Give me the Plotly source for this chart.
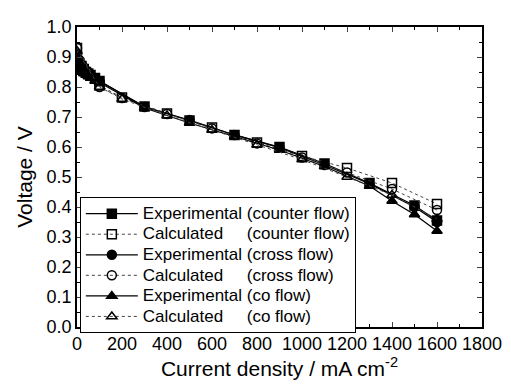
import plotly.graph_objects as go

# Experimental data (current density mA cm-2, voltage V)
exp_counter_x = [0, 10, 20, 30, 40, 50, 60, 80, 100, 300, 500, 700, 900, 1100, 1300, 1500, 1600]
exp_counter_y = [0.90, 0.88, 0.87, 0.86, 0.85, 0.845, 0.84, 0.83, 0.82, 0.735, 0.688, 0.64, 0.60, 0.545, 0.48, 0.405, 0.355]
exp_cross_x = [0, 10, 20, 30, 40, 50, 60, 80, 100, 300, 500, 700, 900, 1100, 1300, 1500, 1600]
exp_cross_y = [0.91, 0.89, 0.875, 0.865, 0.855, 0.848, 0.84, 0.83, 0.82, 0.733, 0.69, 0.64, 0.598, 0.54, 0.478, 0.40, 0.35]
exp_co_x = [0, 10, 20, 30, 40, 50, 60, 80, 100, 300, 500, 700, 900, 1100, 1300, 1400, 1500, 1600]
exp_co_y = [0.87, 0.86, 0.85, 0.845, 0.84, 0.835, 0.83, 0.82, 0.815, 0.73, 0.68, 0.635, 0.59, 0.535, 0.47, 0.42, 0.375, 0.32]

# Calculated data
calc_x = [0, 100, 200, 400, 600, 800, 1000, 1200, 1400, 1600]
calc_counter_y = [0.93, 0.805, 0.765, 0.712, 0.665, 0.615, 0.57, 0.53, 0.48, 0.41]
calc_cross_y = [0.93, 0.80, 0.763, 0.71, 0.662, 0.612, 0.565, 0.515, 0.46, 0.39]
calc_co_y = [0.92, 0.80, 0.76, 0.705, 0.657, 0.607, 0.558, 0.50, 0.44, 0.36]

names = [
    "Experimental (counter flow)",
    "Calculated\u00a0\u00a0\u00a0\u00a0\u00a0(counter flow)",
    "Experimental (cross flow)",
    "Calculated\u00a0\u00a0\u00a0\u00a0\u00a0(cross flow)",
    "Experimental (co flow)",
    "Calculated\u00a0\u00a0\u00a0\u00a0\u00a0(co flow)",
]

series = [
    (exp_counter_x, exp_counter_y, "square", True),
    (calc_x, calc_counter_y, "square-open", False),
    (exp_cross_x, exp_cross_y, "circle", True),
    (calc_x, calc_cross_y, "circle-open", False),
    (exp_co_x, exp_co_y, "triangle-up", True),
    (calc_x, calc_co_y, "triangle-up-open", False),
]

fig = go.Figure()
for (x, y, sym, is_exp), name in zip(series, names):
    fig.add_trace(go.Scatter(
        x=x, y=y, name='<span style="font-size:17px">' + name + '</span>',
        mode="lines+markers",
        line=dict(color="black" if is_exp else "#444444", width=1.3 if is_exp else 1,
                  dash="solid" if is_exp else "dot"),
        marker=dict(symbol=sym, size=9, color="black",
                    line=dict(color="black", width=1.5)),
    ))

FONT = "Liberation Sans, Arial, sans-serif"
axis_font = dict(family=FONT, size=18, color="black")
fig.update_layout(
    width=503, height=384,
    margin=dict(l=69, r=22, t=9, b=65),
    paper_bgcolor="white", plot_bgcolor="white",
    font=dict(family=FONT, color="black"),
    showlegend=True,
    legend=dict(x=0.007, y=0.432, xanchor="left", yanchor="top",
                bgcolor="white", bordercolor="black", borderwidth=1,
                font=dict(size=13.5, color="black"), tracegroupgap=0, itemwidth=52),
    xaxis=dict(range=[0, 1800], dtick=200, tick0=0, ticks="inside", ticklen=5,
               showline=True, linecolor="black", linewidth=1.5, mirror="ticks",
               showgrid=False, zeroline=False, tickfont=axis_font,
               minor=dict(dtick=100, ticks="inside", ticklen=3, tickcolor="black"),
               title=dict(text="Current density / mA cm<sup>-2</sup>",
                          font=dict(size=21, color="black"), standoff=8)),
    yaxis=dict(range=[0, 1.0], dtick=0.1, tick0=0, tickformat=".1f", ticks="inside", ticklen=5,
               showline=True, linecolor="black", linewidth=1.5, mirror="ticks",
               showgrid=False, zeroline=False, tickfont=axis_font,
               minor=dict(dtick=0.05, ticks="inside", ticklen=3, tickcolor="black"),
               title=dict(text="Voltage / V", font=dict(size=21, color="black"), standoff=8)),
)

fig.write_html("out.html")
